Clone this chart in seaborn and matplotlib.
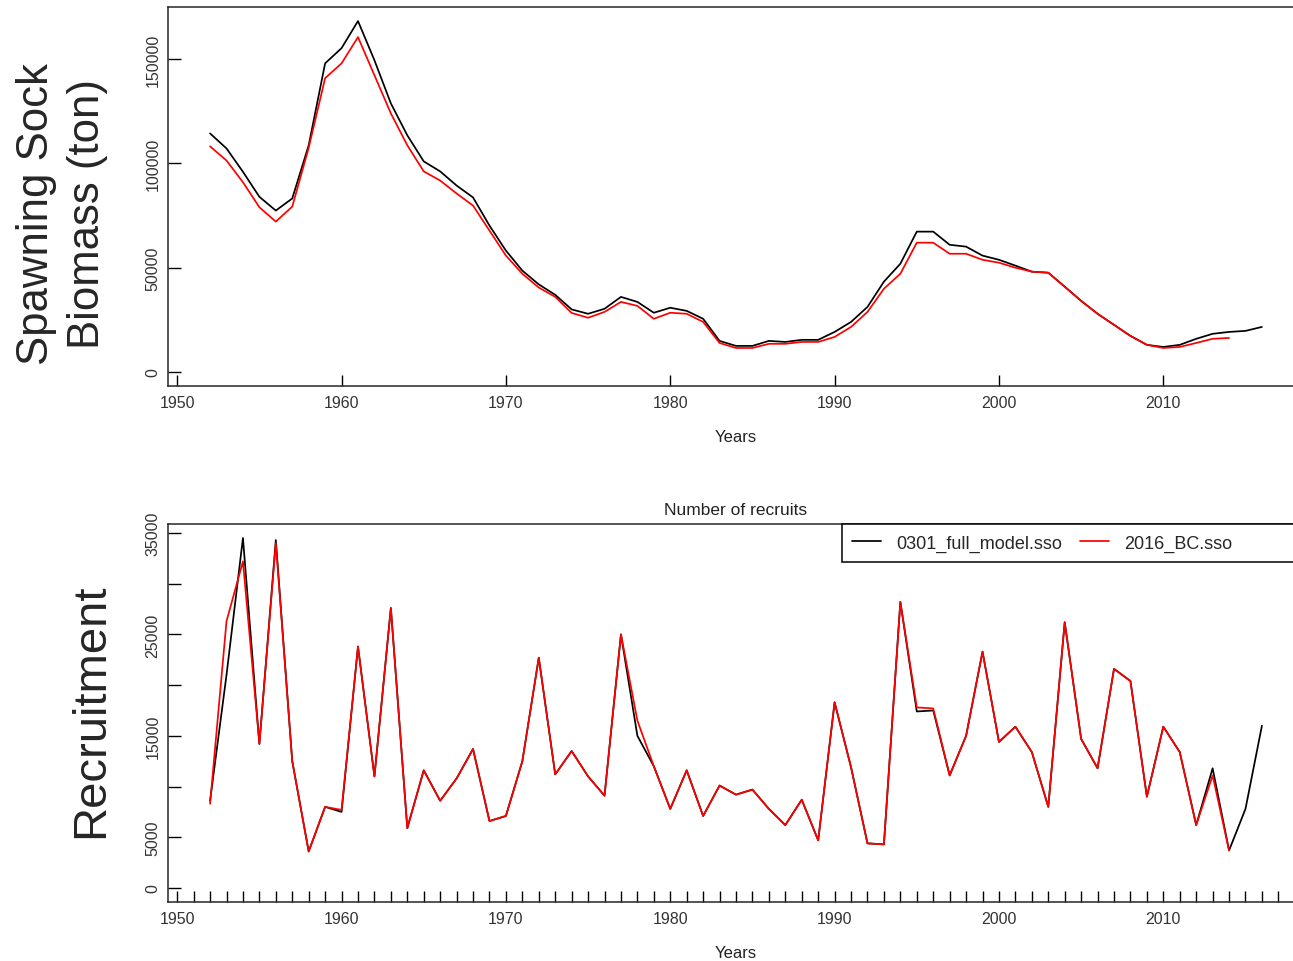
import matplotlib
matplotlib.use("Agg")
import matplotlib.pyplot as plt
from matplotlib.lines import Line2D
import pandas as pd
import seaborn as sns

# ---- data -------------------------------------------------------------
years_full = list(range(1952, 2017))   # 0301_full_model.sso
years_bc = list(range(1952, 2015))     # 2016_BC.sso

ssb_full = [114400, 107200, 96000, 84000, 77400, 83200, 108700, 148000, 155300, 168300,
            149500, 128800, 113500, 101000, 96200, 89400, 83700, 70200, 58200, 48600,
            42000, 37000, 30000, 27900, 30300, 36000, 33600, 28400, 30800, 29300,
            25500, 14900, 12500, 12500, 14900, 14400, 15400, 15400, 19200, 24000,
            31200, 43300, 51900, 67300, 67300, 61000, 60100, 55800, 53800, 51000,
            48100, 47600, 40900, 34100, 27900, 22600, 17300, 13000, 12000, 13000,
            15900, 18300, 19200, 19700, 21600]

ssb_bc = [108200, 101400, 91000, 79000, 72100, 79300, 107500, 140900, 148000, 160600,
          142300, 124000, 108700, 96200, 91800, 85600, 79800, 67800, 55800, 47100,
          40500, 36000, 28300, 26000, 28800, 33600, 31700, 25500, 28400, 27900,
          24000, 13900, 11500, 11500, 13500, 13500, 14400, 14400, 16800, 21600,
          28800, 39900, 47100, 62000, 62000, 56700, 56700, 53800, 52400, 50000,
          48100, 47600, 40900, 34100, 27900, 22600, 17300, 13000, 11500, 12000,
          13900, 15900, 16300]

rec_full = [8600, 21000, 34500, 14200, 34300, 12500, 3600, 8000, 7500, 23800,
            11000, 27600, 5900, 11600, 8600, 10800, 13700, 6600, 7100, 12500,
            22700, 11200, 13500, 11000, 9100, 25000, 15000, 12000, 7800, 11600,
            7100, 10100, 9200, 9700, 7800, 6200, 8700, 4700, 18300, 11900,
            4400, 4300, 28200, 17400, 17500, 11100, 15000, 23300, 14400, 15900,
            13400, 8000, 26200, 14700, 11800, 21600, 20400, 9000, 15900, 13400,
            6200, 11800, 3700, 7800, 16000]

rec_bc = [8300, 26300, 32200, 14200, 34000, 12500, 3600, 8000, 7700, 23800,
          11000, 27600, 5900, 11600, 8600, 10800, 13700, 6600, 7100, 12500,
          22700, 11200, 13500, 11000, 9100, 25000, 16500, 12000, 7800, 11600,
          7100, 10100, 9200, 9700, 7800, 6200, 8700, 4700, 18300, 11900,
          4400, 4300, 28200, 17800, 17700, 11100, 15000, 23300, 14400, 15900,
          13400, 8000, 26200, 14700, 11800, 21600, 20400, 9000, 15900, 13400,
          6200, 11100, 3700]

model_names = ["0301_full_model.sso", "2016_BC.sso"]
model_colors = ["black", "red"]

decade_ticks = [1950, 1960, 1970, 1980, 1990, 2000, 2010]
ssb_ticks = [0, 50000, 100000, 150000]
rec_ticks = [0, 5000, 10000, 15000, 20000, 25000, 30000, 35000]
rec_tick_labels = ["0", "5000", "", "15000", "", "25000", "", "35000"]
year_ticks = list(range(1950, 2019))

# ---- long-format tables for seaborn -------------------------------------
ssb_df = pd.concat([
    pd.DataFrame({"year": years_full, "value": ssb_full, "model": model_names[0]}),
    pd.DataFrame({"year": years_bc, "value": ssb_bc, "model": model_names[1]}),
])
rec_df = pd.concat([
    pd.DataFrame({"year": years_full, "value": rec_full, "model": model_names[0]}),
    pd.DataFrame({"year": years_bc, "value": rec_bc, "model": model_names[1]}),
])
palette = dict(zip(model_names, model_colors))

# ---- style ---------------------------------------------------------------
sns.set_style("ticks")
plt.rcParams["font.family"] = ["Liberation Sans", "DejaVu Sans"]
plt.rcParams["axes.linewidth"] = 1.1

W, H = 1293, 962
fig = plt.figure(figsize=(W / 100, H / 100), dpi=100)

def px_axes(left, top, right, bottom):
    return fig.add_axes([left / W, 1 - bottom / H, (right - left) / W, (bottom - top) / H])

ax1 = px_axes(168, 8, 1304, 387)
ax2 = px_axes(168, 525, 1304, 903)

x_lo = 1952 - 0.04 * (2016 - 1952)
x_hi = 2016 + 0.04 * (2016 - 1952)

for ax, df, vmax in ((ax1, ssb_df, max(ssb_full)), (ax2, rec_df, max(rec_full))):
    sns.lineplot(data=df, x="year", y="value", hue="model", hue_order=model_names,
                 palette=palette, linewidth=1.25, legend=False, ax=ax,
                 estimator=None, sort=True)
    ax.set_xlim(x_lo, x_hi)
    ax.set_ylim(-0.04 * vmax, 1.04 * vmax)
    ax.set_ylabel("")
    ax.set_xlabel("Years", fontsize=12, labelpad=13.5, color="#222222")
    ax.tick_params(axis="both", direction="in", width=1.0, color="black",
                   labelsize=11.5, labelcolor="#333333")
    ax.tick_params(axis="y", length=9, pad=5.5, labelrotation=90)
    ax.tick_params(axis="x", length=8, pad=6.5)

ax1.set_xticks(decade_ticks)
ax1.set_xticklabels([str(y) for y in decade_ticks])
ax1.set_yticks(ssb_ticks)
ax1.set_yticklabels([str(v) for v in ssb_ticks])

ax2.set_xticks(year_ticks)
ax2.set_xticklabels([str(y) if y % 10 == 0 else "" for y in year_ticks])
ax2.set_yticks(rec_ticks)
ax2.set_yticklabels(rec_tick_labels)
ax2.set_title("Number of recruits", fontsize=12.5, pad=7.5, color="#222222")

for ax in (ax1, ax2):
    for lbl in ax.get_yticklabels():
        lbl.set_va("center")

# legend across the top-right of the recruitment panel
handles = [Line2D([], [], color=c, linewidth=1.25) for c in model_colors]
handles.append(Line2D([], [], color="none"))
leg = ax2.legend(handles, model_names + [" "], ncol=3, loc="upper left",
                 bbox_to_anchor=((842 - 168) / (1304 - 168), 1.0),
                 borderaxespad=0, frameon=True, fancybox=False, edgecolor="black",
                 fontsize=13, handlelength=1.6, handletextpad=0.85,
                 columnspacing=0.95, borderpad=0.58)
leg.get_frame().set_linewidth(1.1)
leg.get_frame().set_alpha(1)

# large axis titles
fig.text(62 / W, 1 - 214 / H, "Spawning Sock\nBiomass (ton)", rotation=90,
         ha="center", va="center", multialignment="center", fontsize=31.5,
         linespacing=1.3)
fig.text(91 / W, 1 - 711 / H, "Recruitment", rotation=90,
         ha="center", va="center", fontsize=34)

fig.savefig("out.png", dpi=100, facecolor="white")
